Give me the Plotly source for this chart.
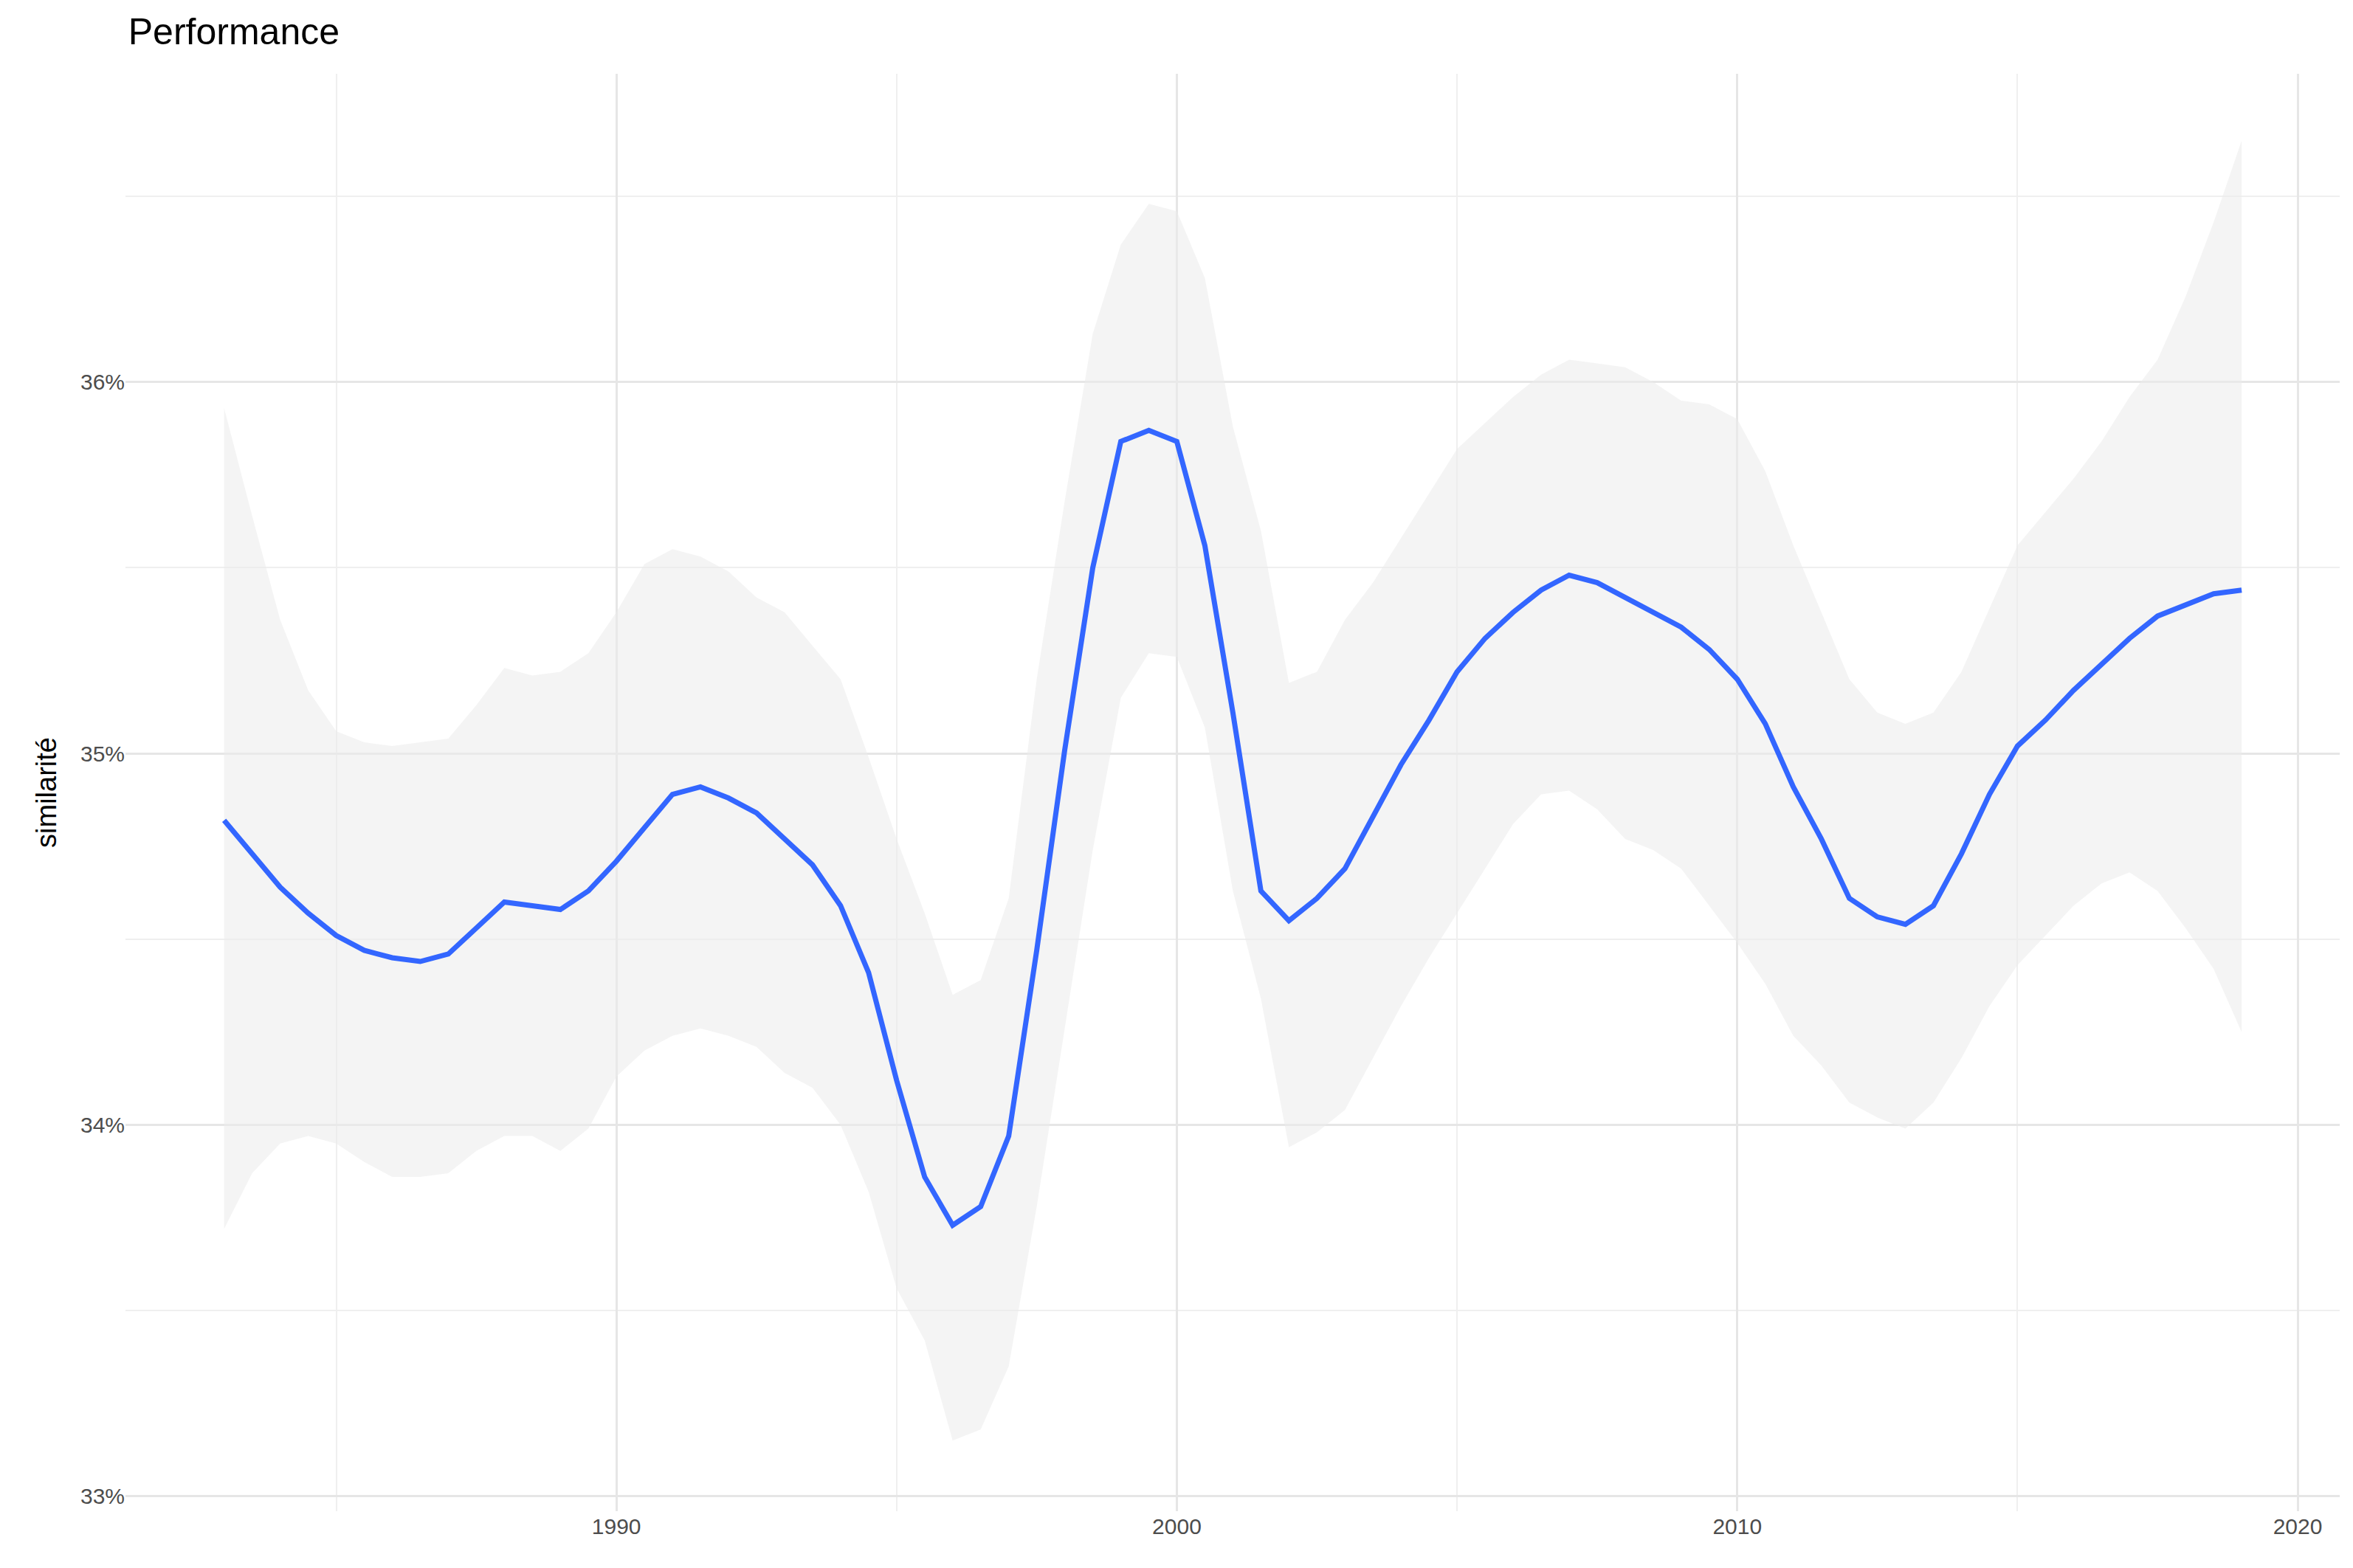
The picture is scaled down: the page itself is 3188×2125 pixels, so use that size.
import plotly.graph_objects as go

years = [1983 + 0.5*i for i in range(73)]
fit = [34.82,34.73,34.64,34.57,34.51,34.47,34.45,34.44,34.46,34.53,34.60,34.59,34.58,34.63,34.71,34.80,34.89,34.91,34.88,34.84,34.77,34.70,34.59,34.41,34.12,33.86,33.73,33.78,33.97,34.47,35.01,35.50,35.84,35.87,35.84,35.56,35.11,34.63,34.55,34.61,34.69,34.83,34.97,35.09,35.22,35.31,35.38,35.44,35.48,35.46,35.42,35.38,35.34,35.28,35.20,35.08,34.91,34.77,34.61,34.56,34.54,34.59,34.73,34.89,35.02,35.09,35.17,35.24,35.31,35.37,35.40,35.43,35.44]
upper = [35.93,35.64,35.36,35.17,35.06,35.03,35.02,35.03,35.04,35.13,35.23,35.21,35.22,35.27,35.38,35.51,35.55,35.53,35.49,35.42,35.38,35.29,35.20,34.99,34.77,34.57,34.35,34.39,34.61,35.20,35.68,36.13,36.37,36.48,36.46,36.28,35.88,35.60,35.19,35.22,35.36,35.46,35.58,35.70,35.82,35.89,35.96,36.02,36.06,36.05,36.04,36.00,35.95,35.94,35.90,35.76,35.56,35.38,35.20,35.11,35.08,35.11,35.22,35.39,35.56,35.65,35.74,35.84,35.96,36.06,36.23,36.43,36.65]
lower = [33.72,33.87,33.95,33.97,33.95,33.90,33.86,33.86,33.87,33.93,33.97,33.97,33.93,33.99,34.13,34.20,34.24,34.26,34.24,34.21,34.14,34.10,34.00,33.82,33.56,33.42,33.15,33.18,33.35,33.78,34.26,34.74,35.15,35.27,35.26,35.07,34.63,34.34,33.94,33.98,34.04,34.18,34.32,34.45,34.57,34.69,34.81,34.89,34.90,34.85,34.77,34.74,34.69,34.59,34.49,34.38,34.24,34.16,34.06,34.02,33.99,34.06,34.18,34.32,34.43,34.51,34.59,34.65,34.68,34.63,34.53,34.42,34.25]
x_ticks = [1990, 2000, 2010, 2020]
y_ticks = [33, 34, 35, 36]

fig = go.Figure()
fig.add_trace(go.Scatter(x=years + years[::-1], y=upper + lower[::-1], fill="toself",
                         fillcolor="rgba(235,235,235,0.55)", line=dict(width=0), mode="lines",
                         hoverinfo="skip", showlegend=False))
fig.add_trace(go.Scatter(x=years, y=fit, mode="lines", line=dict(color="#3366FF", width=7),
                         showlegend=False))
font = "Liberation Sans, Arial, sans-serif"
fig.update_layout(
    width=3188, height=2125, paper_bgcolor="white", plot_bgcolor="white",
    margin=dict(l=162, r=26, t=92, b=85),
    title=dict(text="Performance", x=0.052, xanchor="left", y=0.992, yanchor="top",
               font=dict(family=font, size=50, color="black")),
    font=dict(family=font),
    xaxis=dict(range=[1981.24, 2020.75], tickvals=x_ticks, ticktext=[str(v) for v in x_ticks],
               showgrid=True, gridcolor="#e6e6e6", gridwidth=3, zeroline=False,
               minor=dict(dtick=5, tick0=1985, showgrid=True, gridcolor="#efefef", gridwidth=1.5),
               tickfont=dict(size=30, color="#4d4d4d"), ticks=""),
    yaxis=dict(range=[32.96, 36.83], tickvals=y_ticks, ticktext=[f"{v}%" for v in y_ticks],
               showgrid=True, gridcolor="#e6e6e6", gridwidth=3, zeroline=False,
               minor=dict(dtick=0.5, tick0=33.5, showgrid=True, gridcolor="#efefef", gridwidth=1.5),
               tickfont=dict(size=30, color="#4d4d4d"), ticks="",
               title=dict(text="similarité", font=dict(size=38, color="black"), standoff=20)),
)
fig.write_html("out.html")
